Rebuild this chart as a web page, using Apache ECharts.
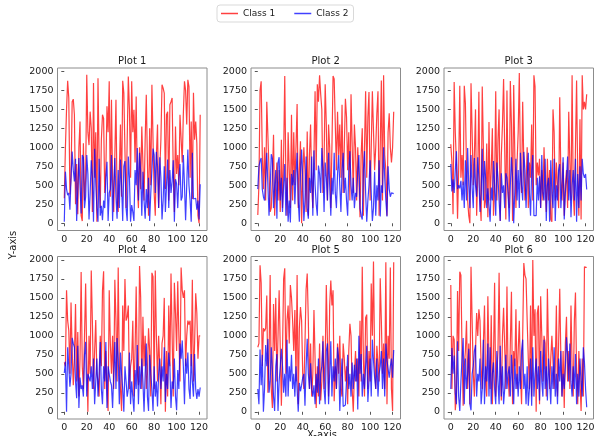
<!DOCTYPE html>
<html><head><meta charset="utf-8">
<script src="https://cdn.jsdelivr.net/npm/echarts@6/dist/echarts.min.js"></script>
<style>html,body{margin:0;padding:0;background:#fff}#c{width:601px;height:436px}</style>
</head><body><div id="c"></div>
<script>
const plotTitles = ['Plot 1','Plot 2','Plot 3','Plot 4','Plot 5','Plot 6'];
const seriesNames = ['Class 1','Class 2'];
const xTicks = [0,20,40,60,80,100,120];
const yTicks = [0,250,500,750,1000,1250,1500,1750,2000];
const xAxisName = 'X-axis';
const yAxisName = 'Y-axis';

const class1Plot1 = [330,1000,1500,1877,1650,380,600,1600,1635,1430,
250,780,120,1000,1340,100,30,1055,300,600,
1956,1200,1030,1470,1250,150,1846,600,1200,20,
1910,850,200,1100,1430,1380,400,700,1540,1200,
1870,350,1626,550,150,900,1626,300,150,700,
1300,350,1877,1714,1700,200,1100,1934,1500,600,
1870,1200,1494,800,1670,500,200,1000,450,1275,
1300,300,1100,1692,800,100,1250,500,1824,1100,
400,100,900,1300,200,700,1100,1824,1780,1714,
450,1430,1470,300,1560,1600,1650,700,150,1275,
650,900,500,1430,1420,800,1450,1870,1750,1300,
1890,1800,600,1340,320,1720,1100,1340,1050,100,
0,1430];
const class2Plot1 = [20,680,450,370,400,180,600,945,700,550,
850,30,20,860,500,130,900,870,200,350,
900,650,50,400,830,600,20,980,550,200,
20,850,100,230,40,300,200,600,810,30,
400,450,900,30,500,860,350,60,700,200,
840,500,30,750,820,200,30,880,600,20,
240,150,30,700,500,990,300,930,680,100,
680,300,60,450,200,600,30,400,700,985,
900,400,940,750,200,870,600,50,300,750,
150,500,840,200,700,400,550,830,20,580,
520,200,600,780,300,350,900,500,40,500,
970,500,300,20,930,320,300,330,180,300,
50,514];
const class1Plot2 = [110,500,1750,1870,900,450,1000,300,1600,1620,
700,150,200,600,1165,100,500,800,300,700,
150,1100,200,900,1940,600,100,1200,700,200,
1430,300,1200,500,1000,1570,200,700,1080,0,
600,1000,700,150,1210,100,900,1300,500,200,
880,1740,700,1830,1600,1950,1700,1500,400,800,
1830,1300,300,1300,1000,200,1000,1940,1900,1900,
700,1470,900,1300,600,1560,400,1000,1640,1400,
700,1200,300,1700,1690,400,1300,1000,300,1000,
600,80,900,1250,100,1000,1740,600,1400,1730,
300,1000,1740,1750,700,1000,1450,1740,100,1000,
1880,300,1950,900,700,100,1200,1450,1000,800,
1000,1470];
const class2Plot2 = [450,750,820,860,450,350,300,600,930,500,
100,450,910,850,200,500,700,60,800,870,
300,600,150,500,780,100,600,20,300,10,
650,500,700,250,650,930,300,20,680,970,
600,30,300,880,200,60,600,400,880,100,
960,500,250,100,760,650,400,990,700,150,
800,600,300,930,500,100,600,380,930,400,
200,650,900,500,150,700,930,400,600,300,
100,700,950,500,300,600,200,400,350,700,
900,200,100,50,700,950,400,20,300,500,
830,400,30,200,680,100,500,300,830,90,
500,400,1000,600,300,90,750,450,350,400,
390,390];
const class1Plot3 = [1040,800,120,1860,1200,800,60,700,1810,600,
900,500,1810,1580,700,300,100,0,1845,1200,
500,900,1500,100,600,1733,300,30,1800,1810,
200,300,1050,80,1333,300,700,1250,100,500,
1740,300,1100,1500,30,900,1300,1900,1890,50,
1750,400,200,1875,1300,30,1820,900,200,800,
1200,1980,700,400,1600,800,300,500,1000,200,
800,600,1300,300,1950,1800,500,800,630,850,
200,700,300,1000,500,150,850,300,700,50,
20,1500,1200,300,800,500,200,1660,600,300,
800,100,500,700,200,1470,800,300,1950,400,
100,1000,1880,600,100,1370,50,1950,1500,1600,
1500,1700];
const class2Plot3 = [780,420,580,400,700,950,450,500,460,560,
300,550,200,830,300,990,500,200,900,470,
200,860,500,350,870,600,150,400,980,300,
820,600,200,460,240,20,470,300,820,500,
100,800,600,300,30,660,400,500,200,660,
600,400,20,500,870,600,0,10,850,300,
700,200,930,500,300,940,700,200,600,930,
400,100,700,900,100,120,100,600,300,620,
200,900,400,300,850,30,500,600,20,830,
400,200,850,30,500,300,700,780,200,500,
870,50,400,600,880,300,700,80,500,700,
300,850,20,650,200,750,300,850,650,600,
650,444];
const class1Plot4 = [650,600,1600,1200,1070,500,1440,800,350,700,
1420,400,1050,200,700,1840,600,300,1000,1690,
700,0,1000,500,1860,1200,300,800,1210,500,
400,200,1000,600,1600,1850,300,800,260,10,
1600,900,500,1000,300,1740,1200,400,1900,600,
300,10,1400,800,1750,1200,1250,1400,300,600,
700,1200,200,800,1650,500,350,1920,1500,300,
1250,600,1000,300,500,1100,800,200,1830,1780,
300,1860,1000,400,1000,600,100,900,1000,1500,
0,800,200,1400,600,1820,1000,200,1700,1300,
800,1720,1000,400,1900,1600,1500,1600,600,1000,
1200,1150,1200,600,1740,400,900,1560,1300,700,
1000,1000];
const class2Plot4 = [510,660,0,850,600,330,500,975,900,850,
400,180,870,50,450,300,350,200,750,920,
200,500,520,400,600,300,700,100,400,700,
200,500,920,300,100,600,400,920,50,600,
620,400,350,50,500,920,300,970,700,100,
780,500,300,0,600,400,200,300,780,100,
400,200,0,550,300,880,100,600,300,700,
400,0,500,900,200,10,750,500,300,10,
600,200,400,70,500,700,300,600,400,850,
130,500,300,780,600,50,400,300,700,200,
20,550,300,900,700,940,600,100,700,500,
780,300,170,760,400,200,760,300,170,300,
200,320];
const class1Plot5 = [850,900,1930,1700,600,1100,1060,1100,1530,250,
700,1800,300,50,1420,800,1500,400,1000,1600,
1620,80,800,1750,1890,500,1200,1400,900,1670,
1500,1200,800,1340,400,1800,100,1100,1380,1200,
500,300,900,1610,1820,1200,300,900,200,500,
1340,1350,50,600,200,900,150,400,1000,300,
700,1670,1670,200,1400,1730,1400,1600,140,600,
300,900,500,1000,300,200,900,700,400,600,
100,800,1160,1000,300,0,500,800,400,700,
200,1200,400,1910,700,200,1240,1280,300,800,
400,1690,1000,1980,700,300,870,850,400,1760,
1200,500,900,300,1970,100,1000,700,1900,300,
10,1970];
const class2Plot5 = [300,100,820,350,750,0,300,880,600,960,
250,400,850,550,200,10,600,760,10,400,
600,830,600,250,500,200,950,200,600,400,
750,300,500,200,600,300,0,380,270,350,
450,500,80,600,960,500,300,640,300,200,
350,100,500,250,700,100,500,600,930,300,
100,800,900,100,500,930,200,600,400,700,
300,850,700,10,400,700,70,80,90,100,
750,300,500,200,650,300,620,400,700,30,
1000,500,760,200,500,300,600,870,130,400,
700,200,950,680,450,300,700,200,500,600,
800,300,700,200,900,680,680,450,600,700,
450,815];
const class1Plot6 = [1670,300,1000,950,20,200,1590,800,1845,1800,
800,80,600,800,1200,300,900,100,1910,1200,
500,200,800,1300,1000,1350,1200,600,300,900,
1400,400,200,1520,700,300,1270,100,700,1700,
200,500,800,1830,600,150,1000,1370,1380,300,
1650,500,200,900,1580,100,800,600,1350,300,
800,1200,500,100,1000,1960,1800,1750,1200,700,
300,1400,200,2000,1000,1350,0,1300,1400,100,
1520,1000,400,1000,900,200,1620,800,300,700,
1000,1000,300,600,1400,200,900,1620,700,200,
800,50,900,1250,400,800,300,1400,600,200,
1200,1570,500,100,800,800,10,700,200,1910,
1900,1900];
const class2Plot6 = [300,840,500,740,250,100,930,200,10,400,
700,970,100,700,300,500,830,100,20,500,
600,800,880,200,500,400,700,100,300,950,
100,600,400,900,200,850,100,500,650,300,
100,800,400,100,870,200,600,100,300,750,
300,500,600,200,750,400,100,700,300,500,
200,600,300,800,950,300,500,100,600,80,
300,700,80,850,200,500,700,300,600,150,
800,400,200,950,300,600,150,700,400,100,
600,300,850,200,500,100,700,400,800,200,
500,300,600,980,750,400,900,400,200,600,
300,760,100,500,200,700,400,200,850,650,
300,60];

const class1 = [class1Plot1,class1Plot2,class1Plot3,class1Plot4,class1Plot5,class1Plot6];
const class2 = [class2Plot1,class2Plot2,class2Plot3,class2Plot4,class2Plot5,class2Plot6];

const FONT = 'DejaVu Sans';
const lefts = [57.5, 251, 444];
const tops = [68, 256.5];
const W = 149.5, H = 162.5;
const redCol = 'rgba(255,0,0,0.75)';
const blueCol = 'rgba(0,0,255,0.75)';
const plain = v => String(v);

const grids = [], xAxes = [], yAxes = [], series = [], graphics = [];
for (let k = 0; k < 6; k++) {
  const r = Math.floor(k / 3), c = k % 3;
  grids.push({left: lefts[c], top: tops[r], width: W, height: H, show: true,
    borderColor: '#8c8c8c', borderWidth: 1, backgroundColor: 'transparent', outerBoundsMode: 'none'});
  xAxes.push({gridIndex: k, type: 'value', min: -6.05, max: 127.05,
    axisLine: {show: false}, splitLine: {show: false},
    axisTick: {show: true, customValues: xTicks, length: 3, lineStyle: {color: '#555'}},
    axisLabel: {customValues: xTicks, formatter: plain, fontSize: 9.5, color: '#1a1a1a', margin: 4, fontFamily: FONT}});
  yAxes.push({gridIndex: k, type: 'value', min: -95, max: 2045,
    axisLine: {show: false}, splitLine: {show: false},
    axisTick: {show: true, customValues: yTicks, length: 3, lineStyle: {color: '#555'}},
    axisLabel: {customValues: yTicks, formatter: plain, fontSize: 9.5, color: '#1a1a1a', margin: 4, fontFamily: FONT}});
  series.push({type: 'line', name: seriesNames[0], xAxisIndex: k, yAxisIndex: k, symbol: 'none',
    data: class1[k].map((v, i) => [i, v]), lineStyle: {color: redCol, width: 1.2}, itemStyle: {color: redCol}, z: 2});
  series.push({type: 'line', name: seriesNames[1], xAxisIndex: k, yAxisIndex: k, symbol: 'none',
    data: class2[k].map((v, i) => [i, v]), lineStyle: {color: blueCol, width: 1.2}, itemStyle: {color: blueCol}, z: 3});
  graphics.push({type: 'text', x: lefts[c] + W / 2, y: tops[r] - 6.5,
    style: {text: plotTitles[k], align: 'center', verticalAlign: 'middle', font: '10px ' + FONT, fill: '#1a1a1a'}});
}
graphics.push({type: 'text', x: 13, y: 245, rotation: Math.PI / 2,
  style: {text: yAxisName, align: 'center', verticalAlign: 'middle', font: '10px ' + FONT, fill: '#1a1a1a'}});
graphics.push({type: 'text', x: 322, y: 430,
  style: {text: xAxisName, align: 'center', verticalAlign: 'top', font: '10px ' + FONT, fill: '#1a1a1a'}});

const chart = echarts.init(document.getElementById('c'), null, {renderer: 'canvas'});
chart.setOption({
  animation: false,
  backgroundColor: '#fff',
  legend: {data: seriesNames, left: 217, top: 5, orient: 'horizontal',
    icon: 'rect', itemWidth: 17, itemHeight: 1.5, itemGap: 19,
    padding: [4, 5, 4, 4], backgroundColor: '#fff', borderColor: '#d9d9d9', borderWidth: 1, borderRadius: 3,
    textStyle: {fontSize: 9, color: '#1a1a1a', fontFamily: FONT}},
  grid: grids, xAxis: xAxes, yAxis: yAxes, series: series, graphic: graphics
});
</script></body></html>
